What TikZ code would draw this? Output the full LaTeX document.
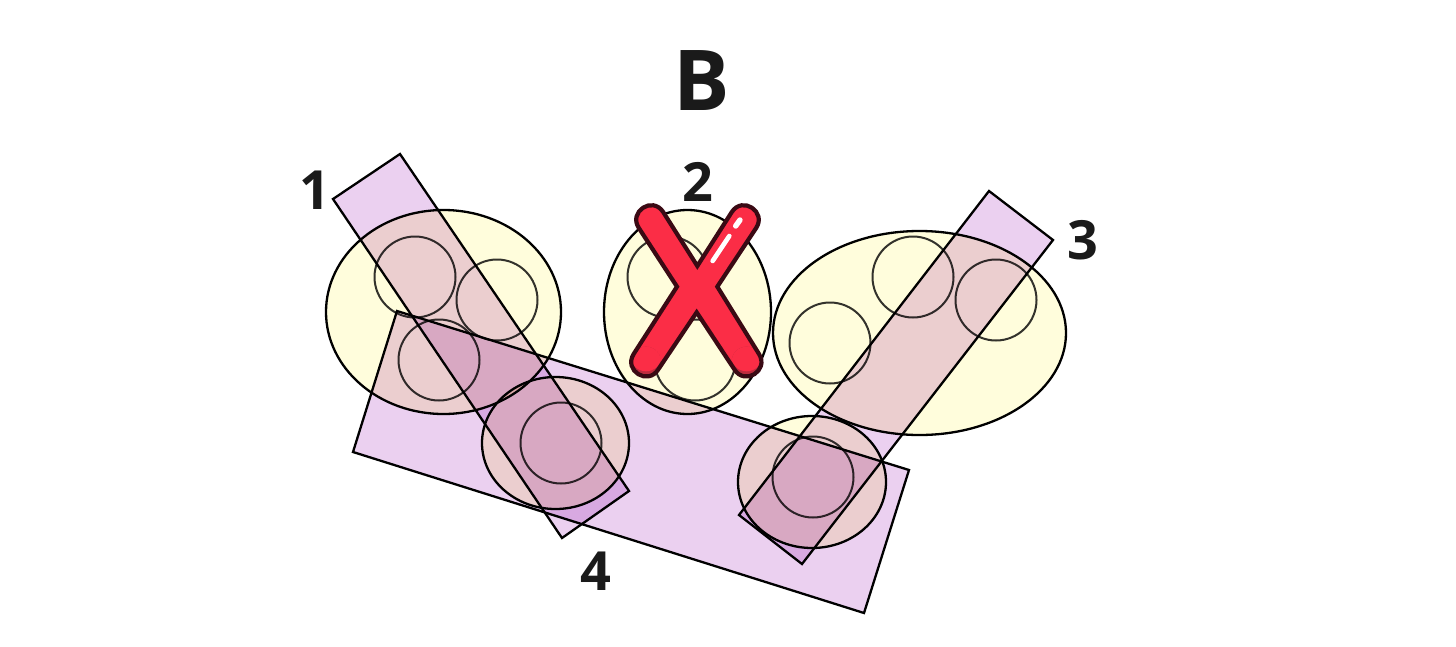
\documentclass[tikz,border=0pt]{standalone}
\usepackage{fontspec}
\setmainfont{Open Sans}
\definecolor{ylw}{HTML}{FFFDDC}
\definecolor{pur}{HTML}{EBD0F0}
\definecolor{ink}{HTML}{1A1A1A}
\definecolor{xdark}{HTML}{3A0A14}
\definecolor{xred}{HTML}{FB2D46}
\definecolor{xshade}{HTML}{BE2C3E}
\definecolor{ringc}{HTML}{333333}
\tikzset{
  x=1pt,y=-1pt,
  band/.style={draw=black,fill=pur,line width=2.3pt,line join=miter,blend mode=multiply},
  blob/.style={draw=black,fill=ylw,line width=2.3pt,blend mode=multiply},
  ring/.style={draw=ringc,line width=2pt,blend mode=multiply},
  num/.style={font=\fontsize{54}{54}\selectfont\bfseries,text=ink,inner sep=0pt},
  xedge/.style={draw=xdark,line width=4.2pt,line join=miter,miter limit=10},
  shine/.style={draw=white,line cap=round},
  xshape/.pic={
    \path[pic actions]
      (292,228) -- (395.5,66) .. controls (427.5,17) and (500.5,65) .. (468.5,114)
      -- (352,290) -- (477,492) .. controls (508,542) and (434,588) .. (403,538)
      -- (290,367) -- (175,538) .. controls (144,588) and (70,542) .. (101,492)
      -- (231,290) -- (116.5,114) .. controls (84.5,65) and (157.5,17) .. (189.5,66) -- cycle;
  }
}
\begin{document}
\begin{tikzpicture}
\useasboundingbox (0,0) rectangle (1456,646);
\fill[white] (0,0) rectangle (1456,646);
% ellipses
\path[blob] (443.5,312) ellipse [x radius=117.5,y radius=102];
\path[blob] (687.5,312) ellipse [x radius=83.5,y radius=102];
\path[blob] (919.5,333) ellipse [x radius=146.5,y radius=102];
\path[blob] (555.5,443) ellipse [x radius=73.5,y radius=66];
\path[blob] (812,482) ellipse [x radius=74,y radius=66];
% bands
\path[band] (400,154) -- (333,199) -- (562,538) -- (629,491) -- cycle;
\path[band] (989,191) -- (1053,240) -- (802,564) -- (739,515) -- cycle;
\path[band] (397,311) -- (909,470) -- (864,613) -- (353,452) -- cycle;
% circles
\foreach \cx/\cy in {415/277,497/300,439/360,561/443,813/477,830/343,913/277,996/300,668/277,695/360}
  \path[ring] (\cx,\cy) circle [radius=40.5];
% X mark, drawn in the 3x crop's coordinates
\begin{scope}[shift={(600,190)},x=0.3333pt,y=-0.3333pt]
  \path pic[fill=xred] {xshape};
  \begin{scope}
    \clip (138,515) circle [radius=45];
    \fill[xshade] (138,515) circle [radius=45];
    \fill[xred] (138,497) circle [radius=47];
  \end{scope}
  \begin{scope}
    \clip (440,515) circle [radius=45];
    \fill[xshade] (440,515) circle [radius=45];
    \fill[xred] (440,497) circle [radius=47];
  \end{scope}
  \path pic[xedge] {xshape};
  \coordinate (s1) at (338,213);
  \coordinate (s2) at (388,138);
  \coordinate (s3) at (407,108);
  \coordinate (s4) at (420,90);
  \draw[shine,line width=4.6pt] (s1) -- (s2);
  \draw[shine,line width=5.4pt] (s3) -- (s4);
\end{scope}
% labels
\node[inner sep=0pt,font=\fontsize{84}{84}\selectfont\bfseries,text=ink] (title) at (701.5,81) {B};
\node[num] (n1) at (314.5,190) {1};
\node[num] (n2) at (697.5,182) {2};
\node[num] (n3) at (1082.5,240) {3};
\node[num] (n4) at (596,571) {4};
\end{tikzpicture}
\end{document}
